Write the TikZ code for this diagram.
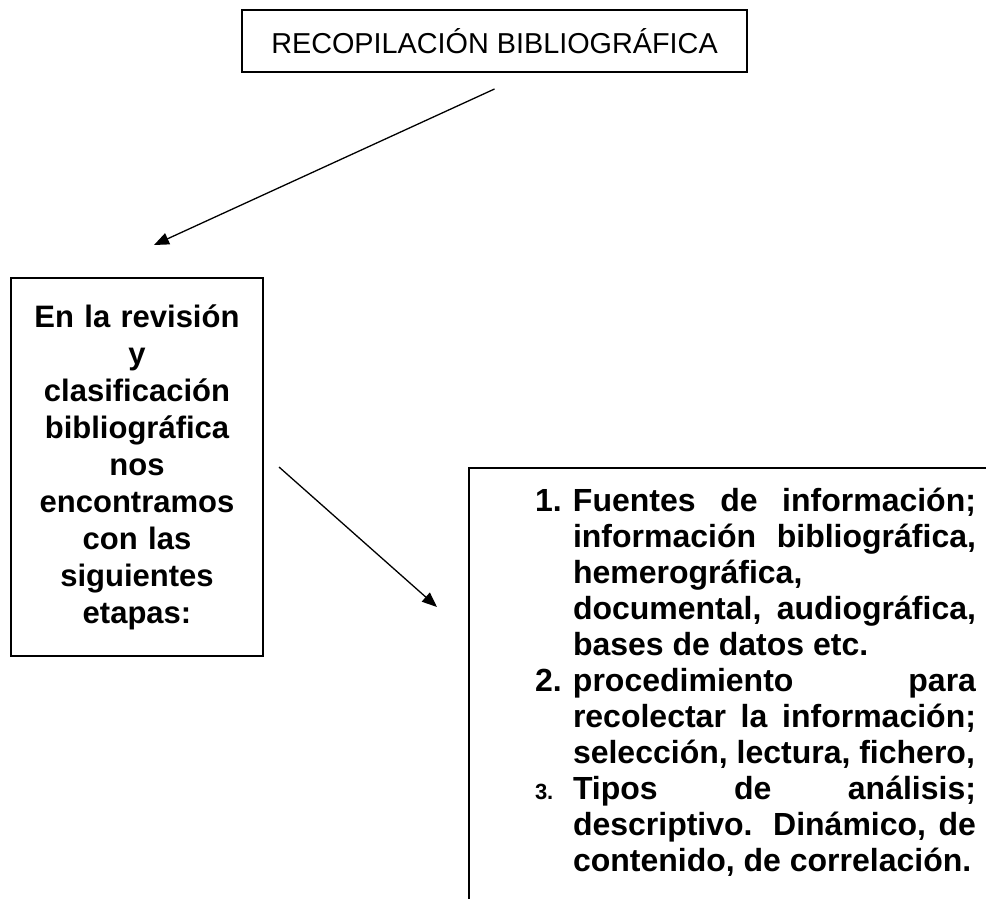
\documentclass[tikz,border=0pt]{standalone}
\usepackage{fontspec}
\setmainfont{Liberation Sans}
\usetikzlibrary{arrows.meta}

\hbadness=10000
\hfuzz=2pt
\newcommand{\stagenum}[1]{\par\hangindent=38pt\hangafter=1\noindent\makebox[38pt][l]{#1}}

\begin{document}
\begin{tikzpicture}[x=1pt,y=1pt]

\tikzset{titlebox/.style = {draw, line width=2pt, minimum width=505pt, minimum height=62pt, font=\fontsize{28.8}{32}\selectfont}}
\tikzset{stagebox/.style = {draw, line width=2pt, minimum width=252pt, minimum height=378pt, text width=240pt, align=center, font=\bfseries\fontsize{31}{37}\selectfont}}
\tikzset{listbox/.style = {draw, line width=2pt, anchor=north west, inner xsep=66pt, inner ysep=7pt, text width=441pt, align=justify, font=\bfseries\fontsize{32}{36}\selectfont}}
\tikzset{edge/.style = {-{Triangle[length=15pt,width=12pt]}, line width=1.3pt}}

\path[use as bounding box, clip] (0,0) rectangle (986,-899);

%boxes
\node[titlebox] (title) at (494.5,-41) {RECOPILACIÓN BIBLIOGRÁFICA};
\node[stagebox] (stage) at (137,-467) {En la revisión\\ y\\ clasificación\\ bibliográfica\\ nos\\ encontramos\\ con las\\ siguientes\\ etapas:\par\vspace{8pt}};
\node[listbox] (list) at (468,-467) {%
\stagenum{1.}Fuentes de información;\linebreak información bibliográfica,\linebreak hemerográfica,\newline documental, audiográfica,\linebreak bases de datos etc.
\stagenum{2.}procedimiento para\linebreak recolectar la información;\linebreak selección, lectura, fichero,
\stagenum{\fontsize{22}{22}\selectfont 3.}Tipos de análisis;\linebreak descriptivo. Dinámico, de\linebreak contenido, de correlación.\par\rule{0pt}{60pt}};

%arrows
\draw[edge] ([yshift=-16pt]title.south) -- ([xshift=17pt,yshift=32pt]stage.north);
\draw[edge] ([xshift=15pt]stage.east) -- ([xshift=-31pt,yshift=-140pt]list.north west);
%\draw[edge] (stage) -- (list);

\end{tikzpicture}
\end{document}
